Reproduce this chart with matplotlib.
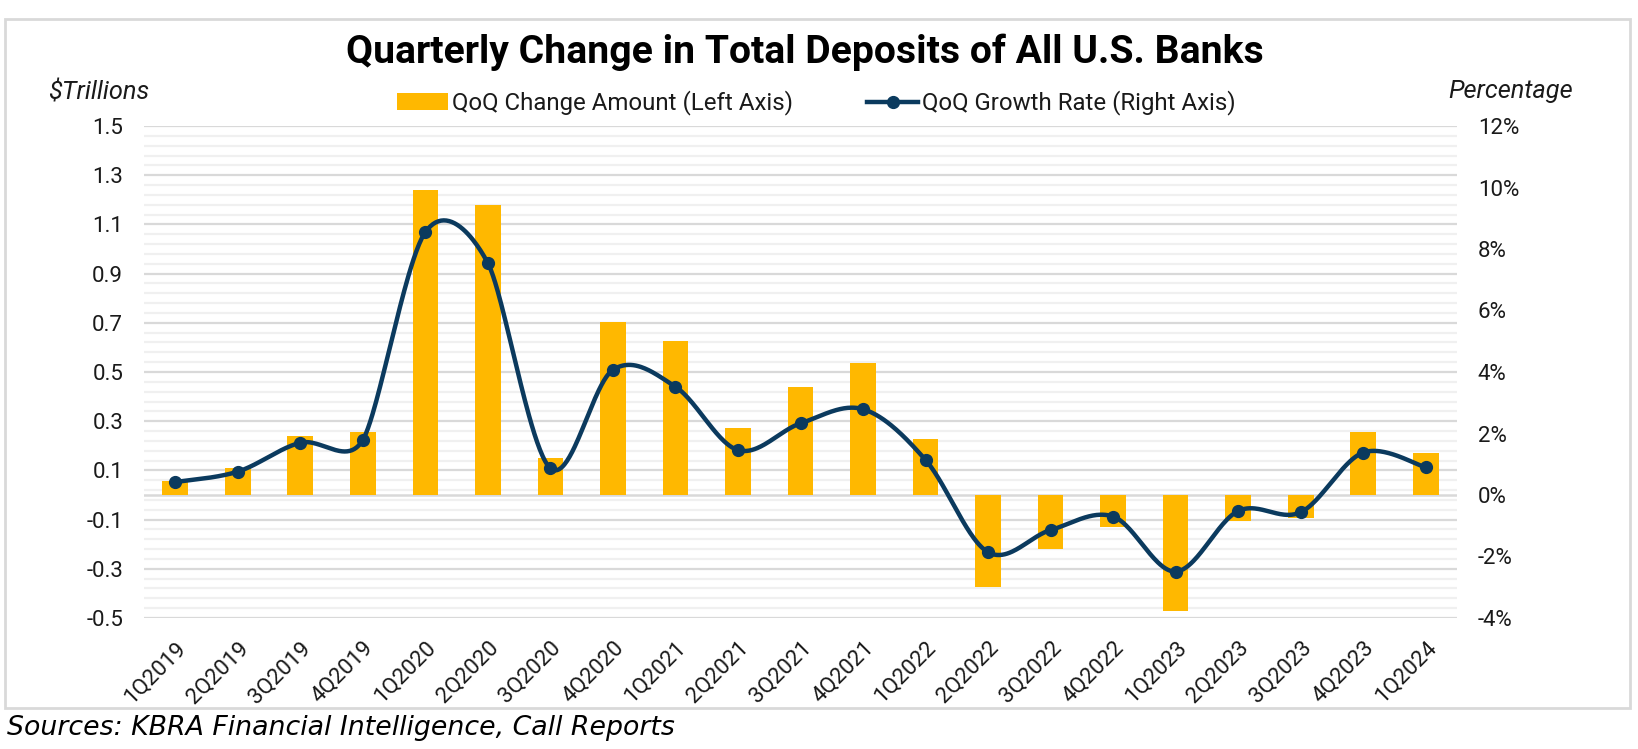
import numpy as np
import matplotlib
matplotlib.use("Agg")
import matplotlib.pyplot as plt
from matplotlib.patches import Rectangle, Patch
from matplotlib.lines import Line2D
from matplotlib.ticker import FuncFormatter

# ---- data ----
quarters = ["1Q2019", "2Q2019", "3Q2019", "4Q2019", "1Q2020", "2Q2020", "3Q2020",
            "4Q2020", "1Q2021", "2Q2021", "3Q2021", "4Q2021", "1Q2022", "2Q2022",
            "3Q2022", "4Q2022", "1Q2023", "2Q2023", "3Q2023", "4Q2023", "1Q2024"]
change_amount = [0.055, 0.108, 0.238, 0.258, 1.24, 1.18, 0.152, 0.705, 0.628, 0.271,
                 0.438, 0.535, 0.228, -0.373, -0.22, -0.131, -0.473, -0.104, -0.092,
                 0.257, 0.171]
growth_rate = [0.42, 0.76, 1.70, 1.79, 8.55, 7.54, 0.87, 4.07, 3.52, 1.46, 2.33, 2.79,
               1.14, -1.86, -1.14, -0.70, -2.49, -0.52, -0.56, 1.38, 0.90]
left_ticks = [-0.5, -0.3, -0.1, 0.1, 0.3, 0.5, 0.7, 0.9, 1.1, 1.3, 1.5]
right_ticks = [-4, -2, 0, 2, 4, 6, 8, 10, 12]

title = "Quarterly Change in Total Deposits of All U.S. Banks"
left_label = "$Trillions"
right_label = "Percentage"
bar_label = "QoQ Change Amount (Left Axis)"
line_label = "QoQ Growth Rate (Right Axis)"
source = "Sources: KBRA Financial Intelligence, Call Reports"

BAR_C = "#FFB800"
LINE_C = "#0B3A5E"
GRID_MAJ = "#d9d9d9"
GRID_MIN = "#f0f0f0"
TXT = "#1a1a1a"

plt.rcParams["font.family"] = ["Roboto", "DejaVu Sans"]

W, H = 1638, 749
fig = plt.figure(figsize=(W / 100, H / 100), dpi=100)
fig.patch.set_facecolor("white")

L, R, T, B = 144, 1457, 126, 618
ax = fig.add_axes([L / W, 1 - B / H, (R - L) / W, (B - T) / H])

n = len(quarters)
x = np.arange(n)
ax.bar(x, change_amount, width=0.41, color=BAR_C, zorder=2)
ax.set_xlim(-0.5, n - 0.5)
ax.set_ylim(-0.5, 1.5)
ax.set_yticks(left_ticks)
ax.set_yticklabels([f"{v:.1f}" for v in left_ticks])
ax.set_yticks(np.arange(-0.5, 1.5001, 0.04), minor=True)
ax.grid(True, axis="y", which="minor", color=GRID_MIN, lw=1.6, zorder=0)
ax.grid(True, axis="y", which="major", color=GRID_MAJ, lw=1.6, zorder=0)
ax.axhline(0, color=GRID_MAJ, lw=1.8, zorder=1)
ax.set_axisbelow(True)
for s in ax.spines.values():
    s.set_visible(False)
ax.set_xticks(x)
ax.set_xticklabels(quarters, rotation=45, ha="right", va="top",
                   rotation_mode="anchor", fontsize=16, color=TXT)
ax.tick_params(axis="x", length=0, pad=14)
ax.tick_params(axis="y", which="both", length=0, pad=15, labelsize=16, labelcolor=TXT)

ax2 = ax.twinx()
ax2.set_ylim(-4, 12)
ax2.set_yticks(right_ticks)
ax2.yaxis.set_major_formatter(FuncFormatter(lambda v, p: f"{v:.0f}%"))
ax2.tick_params(axis="y", length=0, pad=15, labelsize=16, labelcolor=TXT)
for s in ax2.spines.values():
    s.set_visible(False)

# smooth curve (Excel-style Bezier smoothing) through the data points
sx = (R - L) / n            # pixels per category
sy = (B - T) / 16.0         # pixels per percent
P = np.column_stack([x, np.array(growth_rate, dtype=float)])
S = P * np.array([sx, sy])  # screen-space points


def arm_factor(i):
    if i <= 0 or i >= len(P) - 1:
        return 1 / 6.0
    d01 = np.linalg.norm(S[i] - S[i - 1])
    d12 = np.linalg.norm(S[i + 1] - S[i])
    d02 = np.linalg.norm(S[i + 1] - S[i - 1])
    m = min(d01, d12)
    if d02 / 6.0 < m / 2.0:
        return 1 / 6.0
    return m / (2.0 * d02)


seg = []
t = np.linspace(0, 1, 50)[:, None]
for i in range(len(P) - 1):
    p0 = P[i - 1] if i > 0 else P[i]
    p3 = P[i + 2] if i + 2 < len(P) else P[i + 1]
    c1 = P[i] + (P[i + 1] - p0) * arm_factor(i)
    c2 = P[i + 1] - (p3 - P[i]) * arm_factor(i + 1)
    b = ((1 - t) ** 3) * P[i] + 3 * ((1 - t) ** 2) * t * c1 + 3 * (1 - t) * t ** 2 * c2 + t ** 3 * P[i + 1]
    seg.append(b if i == 0 else b[1:])
curve = np.vstack(seg)
ax2.plot(curve[:, 0], curve[:, 1], color=LINE_C, lw=3.2, solid_capstyle="round", zorder=3)
ax2.plot(x, growth_rate, "o", color=LINE_C, ms=8.5, zorder=4)

# titles and axis captions
fig.text(805 / W, 1 - 52.5 / H, title, ha="center", va="center", fontsize=28.2,
         fontweight="bold", color="black")
fig.text(149 / W, 1 - 92 / H, left_label, ha="right", va="center", fontsize=18.3,
         style="italic", color=TXT)
fig.text(1448 / W, 1 - 91 / H, right_label, ha="left", va="center", fontsize=18.3,
         style="italic", color=TXT)

handles = [Patch(facecolor=BAR_C, edgecolor="none"),
           Line2D([0], [0], color=LINE_C, lw=3.2, marker="o", ms=8.5)]
fig.legend(handles, [bar_label, line_label], loc="center", ncol=2,
           bbox_to_anchor=(816.5 / W, 1 - 103 / H), frameon=False, fontsize=17.3,
           handlelength=2.1, handletextpad=0.18, columnspacing=3.1,
           labelcolor=TXT)

fig.patches.append(Rectangle((5 / W, 1 - 708 / H), (1630 - 5) / W, (708 - 19) / H,
                             transform=fig.transFigure, fill=False,
                             edgecolor="#d9d9d9", lw=2))
fig.text(7 / W, 1 - 728 / H, source, ha="left", va="center", fontsize=19.3,
         style="italic", family="DejaVu Sans", color="black")

fig.savefig("out.png", dpi=100, facecolor="white")
